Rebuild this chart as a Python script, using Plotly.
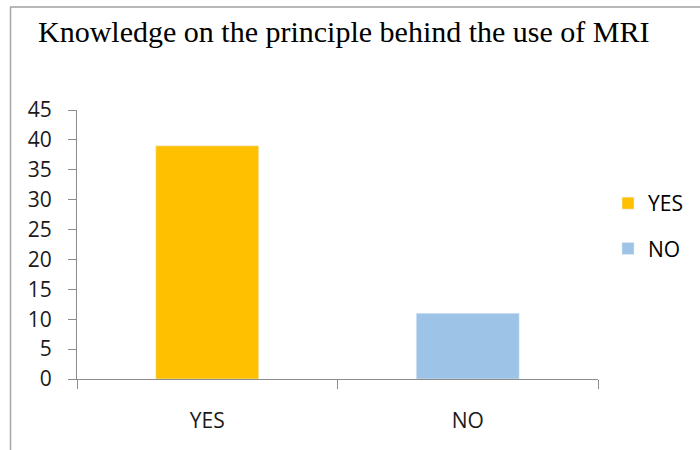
import plotly.graph_objects as go

categories = ["YES", "NO"]
values = [39, 11]
colors = ["#FFC000", "#9DC3E6"]
y_ticks = [0, 5, 10, 15, 20, 25, 30, 35, 40, 45]
title_text = "Knowledge on the principle behind the use of MRI"

fig = go.Figure()
for cat, val, col in zip(categories, values, colors):
    fig.add_trace(go.Bar(
        x=[cat], y=[val], name=cat, marker_color=col, width=0.395,
        legendgroup=cat, showlegend=True,
    ))

L, R, T, B = 77, 102, 110, 71
W, H = 700, 450
pw, ph = W - L - R, H - T - B

def px(xp):
    return (xp - L) / pw

def py(yp):
    return (H - B - yp) / ph

fig.update_layout(
    width=W, height=H,
    margin=dict(l=L, r=R, t=T, b=B),
    paper_bgcolor="white", plot_bgcolor="white",
    barmode="overlay",
    title=dict(text=title_text, x=38 / W, xanchor="left",
               y=1 - 31 / H, yanchor="middle",
               font=dict(family="Liberation Serif", size=30, color="black")),
    legend=dict(x=px(608), xanchor="left", y=py(226), yanchor="middle",
                font=dict(family="Open Sans", size=21, color="black"),
                tracegroupgap=15, traceorder="grouped",
                bgcolor="rgba(0,0,0,0)"),
    font=dict(family="Open Sans", size=21, color="#1a1a1a"),
    showlegend=True,
    shapes=[
        dict(type="line", xref="paper", yref="paper", layer="above",
             x0=px(10), x1=px(700), y0=py(7), y1=py(7),
             line=dict(color="#a0a0a0", width=1.5)),
        dict(type="line", xref="paper", yref="paper", layer="above",
             x0=px(10.5), x1=px(10.5), y0=py(7), y1=py(450),
             line=dict(color="#a6a6a6", width=1.5)),
    ],
)

fig.update_xaxes(
    categoryorder="array", categoryarray=categories,
    showline=True, linecolor="#8c8c8c", linewidth=1,
    ticks="outside", tickson="boundaries", ticklen=9, tickcolor="#8c8c8c",
    showgrid=False, zeroline=False, ticklabelstandoff=23,
    tickfont=dict(family="Open Sans", size=21, color="#1a1a1a"),
)
fig.update_yaxes(
    range=[0, 45], tickvals=y_ticks,
    showline=True, linecolor="#8c8c8c", linewidth=1,
    ticks="outside", ticklen=8, tickcolor="#8c8c8c",
    showgrid=False, zeroline=False, ticklabelstandoff=12,
    tickfont=dict(family="Open Sans", size=21, color="#1a1a1a"),
)

fig.write_html("out.html", config={"displayModeBar": False},
               post_script="document.body.style.margin='0';")
